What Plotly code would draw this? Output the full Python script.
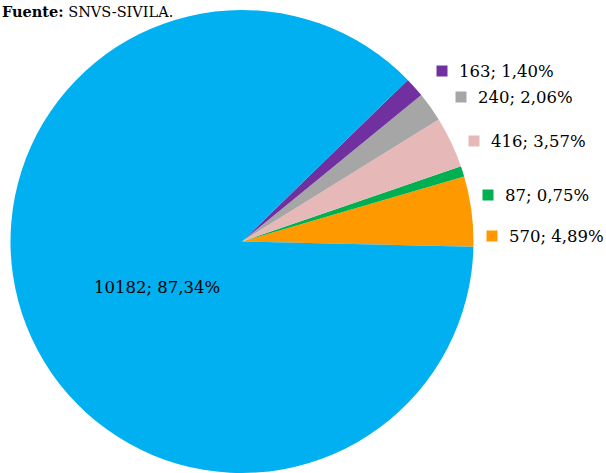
import numpy as np
import plotly.graph_objects as go

# data (counter-clockwise order, starting just below 3 o'clock)
cases = [570, 87, 416, 240, 163, 10182]
pcts = ["4,89%", "0,75%", "3,57%", "2,06%", "1,40%", "87,34%"]
colors = ["#FF9900", "#00B050", "#E6B9B8", "#A6A6A6", "#7030A0", "#00B0F0"]

W, H = 606, 473
font = "DejaVu Serif"

fig = go.Figure()
fig.add_trace(go.Pie(
    values=cases,
    marker=dict(colors=colors, line=dict(width=0)),
    sort=False,
    direction="counterclockwise",
    rotation=73.7,
    textinfo="none",
    hoverinfo="skip",
    domain=dict(x=[10 / W, 474 / W], y=[0, 1 - 10 / H]),
    showlegend=False,
))

# label placement (pixel coords of legend key centre), last one is the inside label
label_pos = [(492, 236), (488, 195), (474, 141), (461, 97), (442, 71), (157, 287)]

shapes = []
annotations = []
for i, (v, p) in enumerate(zip(cases, pcts)):
    px_, py_ = label_pos[i]
    txt = f"{v}; {p}"
    if i < len(cases) - 1:
        shapes.append(dict(type="rect", xref="paper", yref="paper",
                           x0=(px_ - 5.5) / W, x1=(px_ + 5.5) / W,
                           y0=1 - (py_ + 5.5) / H, y1=1 - (py_ - 5.5) / H,
                           fillcolor=colors[i], line=dict(width=0)))
        annotations.append(dict(x=(px_ + 15) / W, y=1 - py_ / H, xref="paper", yref="paper",
                                text=txt, showarrow=False, xanchor="left", yanchor="middle",
                                font=dict(family=font, size=16.5, color="black")))
    else:
        annotations.append(dict(x=px_ / W, y=1 - py_ / H, xref="paper", yref="paper",
                                text=txt, showarrow=False, xanchor="center", yanchor="middle",
                                font=dict(family=font, size=16.5, color="black")))

annotations.append(dict(x=0, y=1 - 11 / H, xref="paper", yref="paper",
                        text="<b>Fuente:</b> SNVS-SIVILA.", showarrow=False,
                        xanchor="left", yanchor="middle",
                        font=dict(family=font, size=14.5, color="black")))

fig.update_layout(
    width=W, height=H,
    margin=dict(l=0, r=0, t=0, b=0),
    paper_bgcolor="white", plot_bgcolor="white",
    shapes=shapes, annotations=annotations,
)

fig.write_html("out.html", config={"displayModeBar": False},
               post_script="document.body.style.margin='0';")
